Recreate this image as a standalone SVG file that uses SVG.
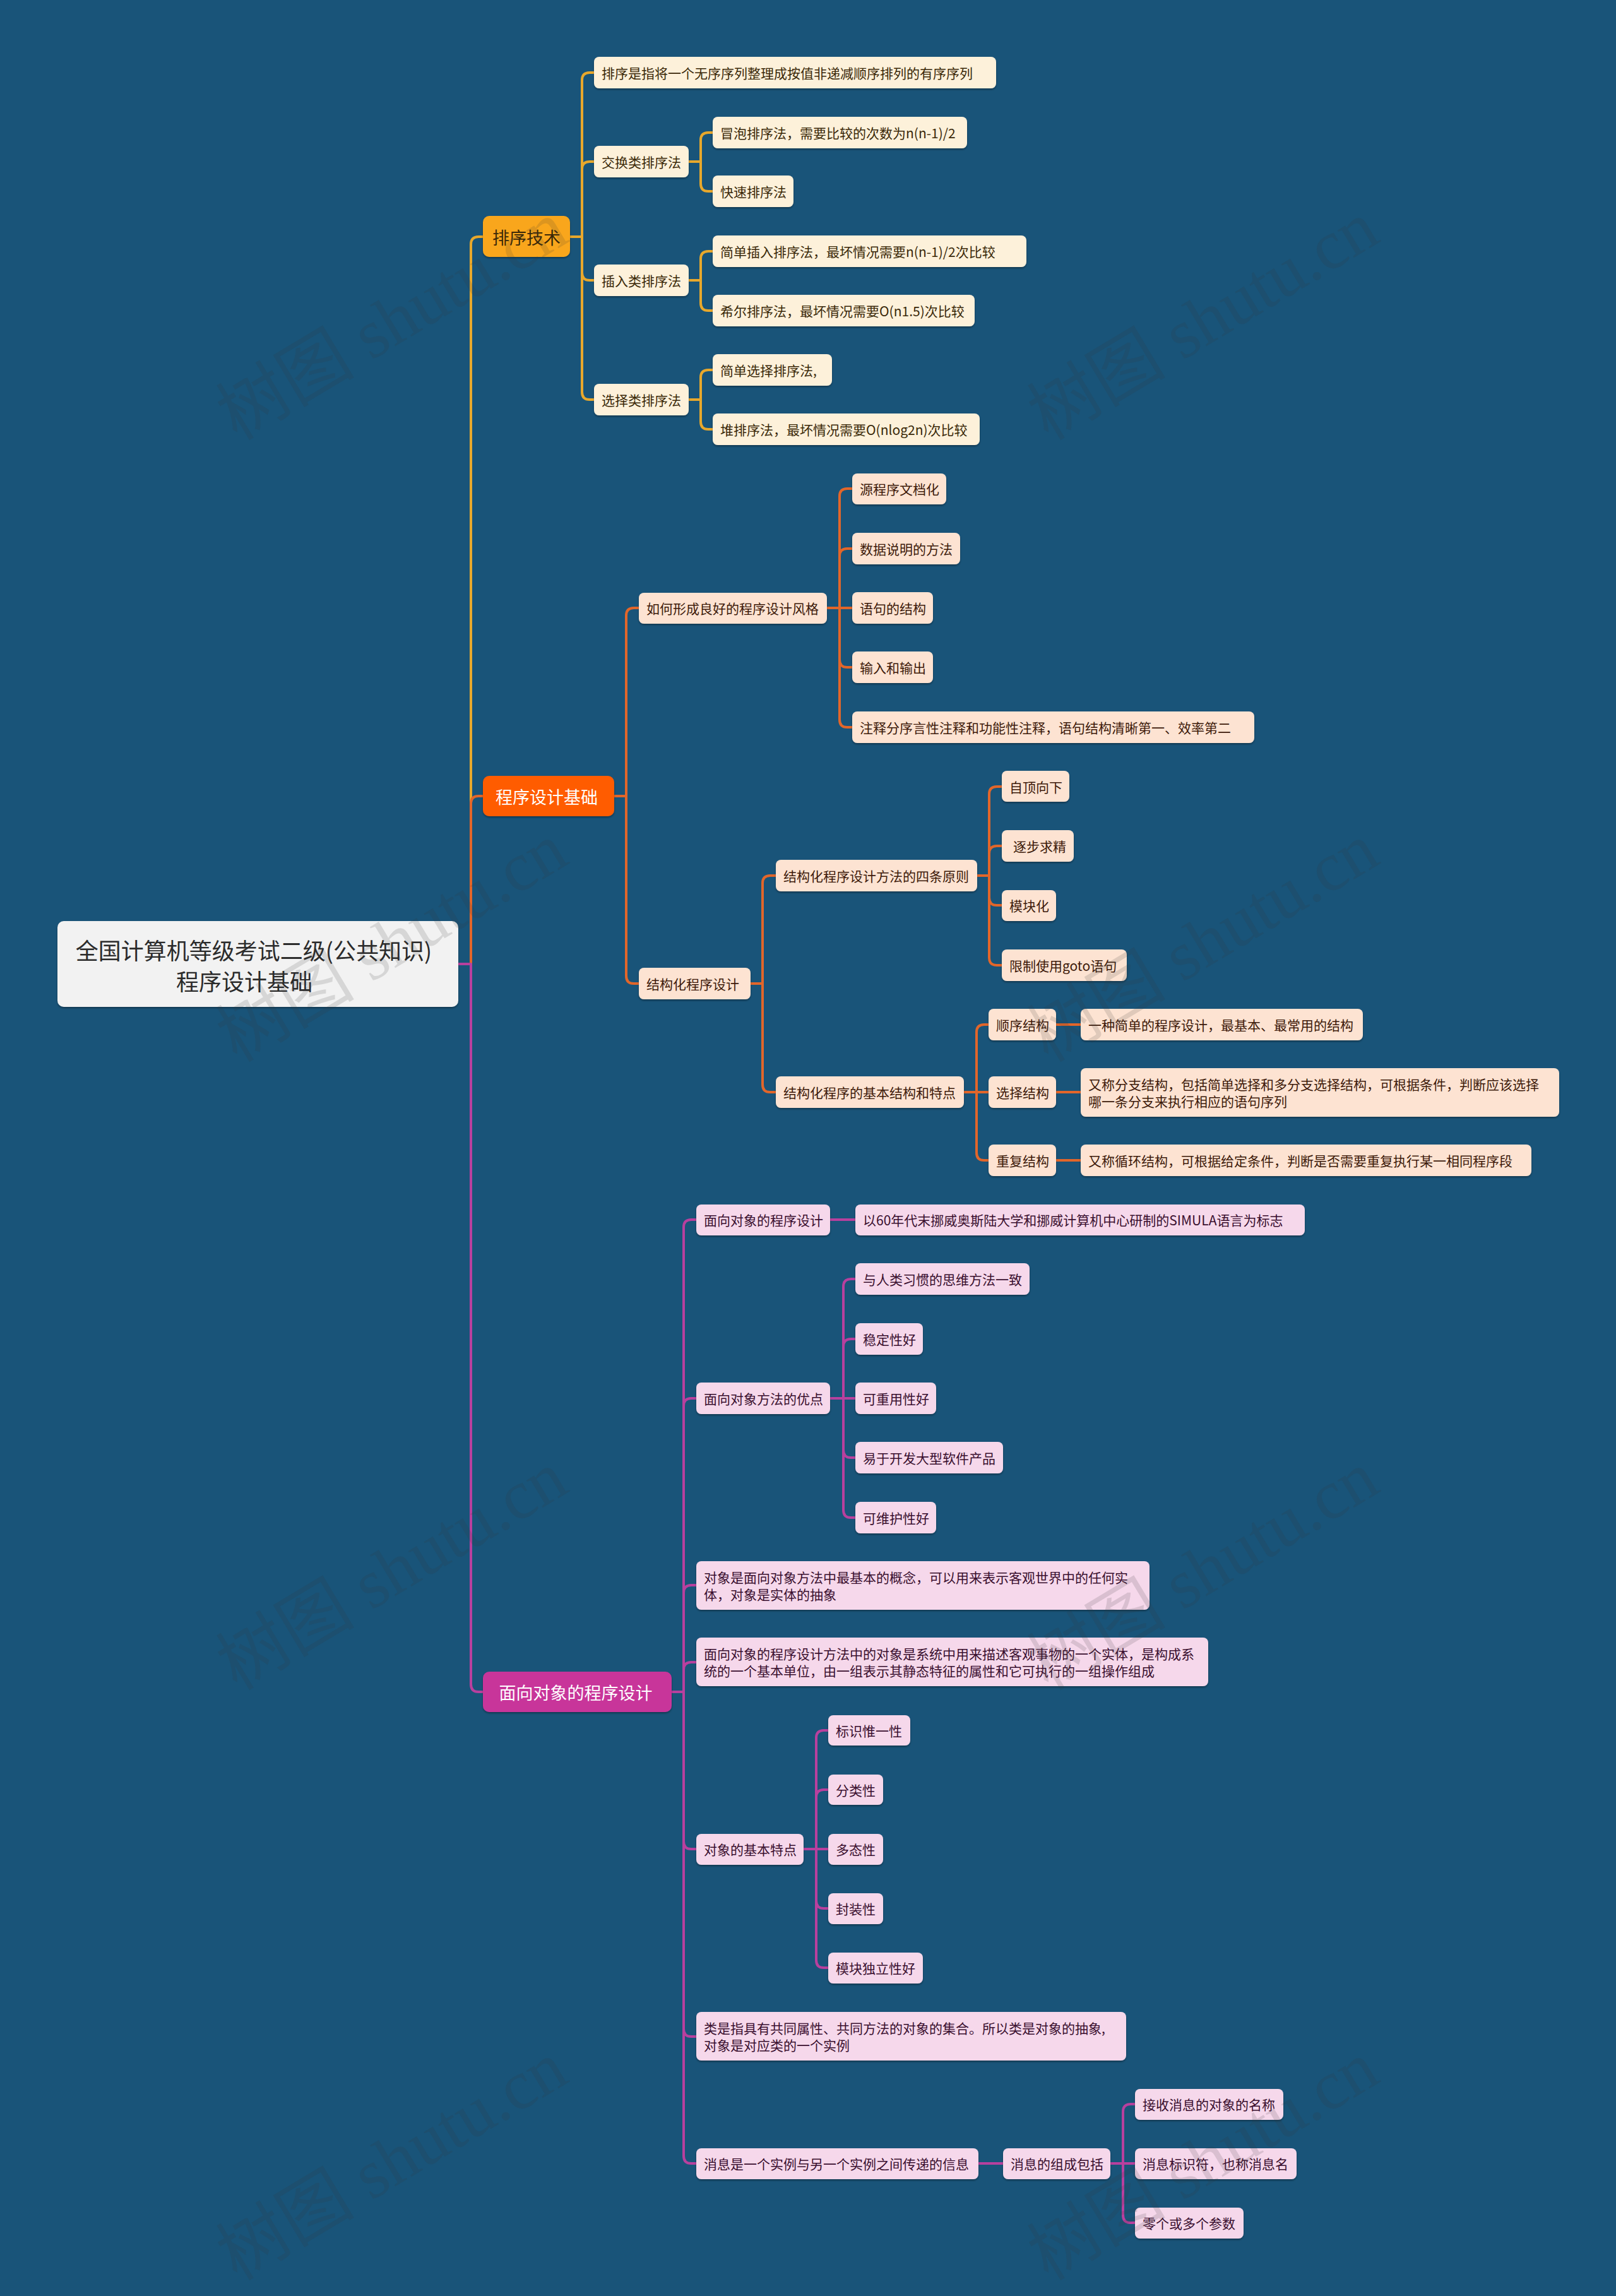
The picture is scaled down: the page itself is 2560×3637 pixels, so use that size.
<svg xmlns="http://www.w3.org/2000/svg" width="2560" height="3637" viewBox="0 0 2560 3637">
<defs>
<filter id="sh" x="-5%" y="-20%" width="110%" height="150%">
<feDropShadow dx="0" dy="2" stdDeviation="1.5" flood-color="#000" flood-opacity="0.35"/>
</filter>
<style>
.t{font-family:"Noto Sans CJK SC","Microsoft YaHei",sans-serif;dominant-baseline:central}
.s21{font-size:21px}
.s27{font-size:27px;text-anchor:middle}
.m{text-anchor:middle}
.na{fill:#fdf1da}
.nb{fill:#fde3d2}
.nc{fill:#f6d8eb}
.ta{fill:#3a2808}
.tb{fill:#3d1a0a}
.tc{fill:#3a0f2f}
.e{fill:none;stroke-width:4;stroke-linecap:round;stroke-linejoin:round}
.ea{stroke:#e8a82c}
.eb{stroke:#e2662a}
.ec{stroke:#b8409e}
.wm{font-family:"Liberation Serif","Noto Sans CJK SC",serif;font-size:110px;fill:#333;fill-opacity:0.15}
</style>
</defs>
<rect x="0" y="0" width="2560" height="3637" fill="#195479"/>

<g id="connectors">
<g class="e ea">
<path d="M726,1527 H746 V387 Q746,375 758,375 H765"/>
<path d="M903,375 H922 V127 Q922,115 934,115 H941"/>
<path d="M903,375 H922 V268 Q922,256 934,256 H941"/>
<path d="M903,375 H922 V432 Q922,444 934,444 H941"/>
<path d="M903,375 H922 V621 Q922,633 934,633 H941"/>
<path d="M1091,256 H1110 V222 Q1110,210 1122,210 H1129"/>
<path d="M1091,256 H1110 V291 Q1110,303 1122,303 H1129"/>
<path d="M1091,444 H1110 V410 Q1110,398 1122,398 H1129"/>
<path d="M1091,444 H1110 V480 Q1110,492 1122,492 H1129"/>
<path d="M1091,633 H1110 V598 Q1110,586 1122,586 H1129"/>
<path d="M1091,633 H1110 V668 Q1110,680 1122,680 H1129"/>
</g>
<g class="e eb">
<path d="M726,1527 H746 V1273 Q746,1261 758,1261 H765"/>
<path d="M973,1261 H992 V975 Q992,963 1004,963 H1012"/>
<path d="M973,1261 H992 V1546 Q992,1558 1004,1558 H1012"/>
<path d="M1310,963 H1330 V786 Q1330,774 1342,774 H1350"/>
<path d="M1310,963 H1330 V881 Q1330,869 1342,869 H1350"/>
<path d="M1310,963 H1350"/>
<path d="M1310,963 H1330 V1045 Q1330,1057 1342,1057 H1350"/>
<path d="M1310,963 H1330 V1140 Q1330,1152 1342,1152 H1350"/>
<path d="M1189,1558 H1208 V1399 Q1208,1387 1220,1387 H1229"/>
<path d="M1189,1558 H1208 V1718 Q1208,1730 1220,1730 H1229"/>
<path d="M1548,1387 H1567 V1258 Q1567,1246 1579,1246 H1587"/>
<path d="M1548,1387 H1567 V1352 Q1567,1340 1579,1340 H1587"/>
<path d="M1548,1387 H1567 V1422 Q1567,1434 1579,1434 H1587"/>
<path d="M1548,1387 H1567 V1517 Q1567,1529 1579,1529 H1587"/>
<path d="M1527,1730 H1547 V1635 Q1547,1623 1559,1623 H1566"/>
<path d="M1527,1730 H1566"/>
<path d="M1527,1730 H1547 V1826 Q1547,1838 1559,1838 H1566"/>
<path d="M1673,1623 H1712"/>
<path d="M1673,1730 H1712"/>
<path d="M1673,1838 H1712"/>
</g>
<g class="e ec">
<path d="M726,1527 H746 V2668 Q746,2680 758,2680 H765"/>
<path d="M1064,2680 H1083 V1944 Q1083,1932 1095,1932 H1103"/>
<path d="M1064,2680 H1083 V2227 Q1083,2215 1095,2215 H1103"/>
<path d="M1064,2680 H1083 V2523 Q1083,2511 1095,2511 H1103"/>
<path d="M1064,2680 H1083 V2645 Q1083,2633 1095,2633 H1103"/>
<path d="M1064,2680 H1083 V2917 Q1083,2929 1095,2929 H1103"/>
<path d="M1064,2680 H1083 V3214 Q1083,3226 1095,3226 H1103"/>
<path d="M1064,2680 H1083 V3415 Q1083,3427 1095,3427 H1103"/>
<path d="M1315,1932 H1355"/>
<path d="M1315,2215 H1336 V2038 Q1336,2026 1348,2026 H1355"/>
<path d="M1315,2215 H1336 V2133 Q1336,2121 1348,2121 H1355"/>
<path d="M1315,2215 H1355"/>
<path d="M1315,2215 H1336 V2297 Q1336,2309 1348,2309 H1355"/>
<path d="M1315,2215 H1336 V2392 Q1336,2404 1348,2404 H1355"/>
<path d="M1273,2929 H1293 V2753 Q1293,2741 1305,2741 H1312"/>
<path d="M1273,2929 H1293 V2847 Q1293,2835 1305,2835 H1312"/>
<path d="M1273,2929 H1312"/>
<path d="M1273,2929 H1293 V3011 Q1293,3023 1305,3023 H1312"/>
<path d="M1273,2929 H1293 V3105 Q1293,3117 1305,3117 H1312"/>
<path d="M1550,3427 H1589"/>
<path d="M1759,3427 H1779 V3345 Q1779,3333 1791,3333 H1798"/>
<path d="M1759,3427 H1798"/>
<path d="M1759,3427 H1779 V3509 Q1779,3521 1791,3521 H1798"/>
</g>
</g>

<g id="root"><rect x="91" y="1459" width="635" height="136" rx="10" fill="#f2f2f2" filter="url(#sh)"/><text class="t m" x="402" y="1504" font-size="36" fill="#2b2b2b">全国计算机等级考试二级(公共知识)</text><text class="t m" x="387" y="1553" font-size="36" fill="#2b2b2b">程序设计基础</text></g>

<g id="n-a"><rect x="765" y="342" width="138" height="65" rx="10" fill="#f9a61c" filter="url(#sh)"/><text class="t s27" x="834" y="375" fill="#3a2808">排序技术</text></g>
<g id="n-b"><rect x="765" y="1229" width="208" height="64" rx="10" fill="#ff5c00" filter="url(#sh)"/><text class="t s27" x="866" y="1261" fill="#ffffff">程序设计基础</text></g>
<g id="n-c"><rect x="765" y="2648" width="299" height="64" rx="10" fill="#c8359a" filter="url(#sh)"/><text class="t s27" x="912" y="2680" fill="#ffffff">面向对象的程序设计</text></g>

<g id="n-a1"><rect class="na" x="941" y="90" width="637" height="50" rx="8" filter="url(#sh)"/><text class="t s21 ta" x="953" y="115">排序是指将一个无序序列整理成按值非递减顺序排列的有序序列</text></g>
<g id="n-a2"><rect class="na" x="941" y="231" width="150" height="50" rx="8" filter="url(#sh)"/><text class="t s21 ta" x="953" y="256">交换类排序法</text></g>
<g id="n-a3"><rect class="na" x="941" y="419" width="150" height="50" rx="8" filter="url(#sh)"/><text class="t s21 ta" x="953" y="444">插入类排序法</text></g>
<g id="n-a4"><rect class="na" x="941" y="608" width="150" height="50" rx="8" filter="url(#sh)"/><text class="t s21 ta" x="953" y="633">选择类排序法</text></g>
<g id="n-a21"><rect class="na" x="1129" y="185" width="403" height="50" rx="8" filter="url(#sh)"/><text class="t s21 ta" x="1141" y="210">冒泡排序法，需要比较的次数为n(n-1)/2</text></g>
<g id="n-a22"><rect class="na" x="1129" y="278" width="128" height="50" rx="8" filter="url(#sh)"/><text class="t s21 ta" x="1141" y="303">快速排序法</text></g>
<g id="n-a31"><rect class="na" x="1129" y="373" width="497" height="50" rx="8" filter="url(#sh)"/><text class="t s21 ta" x="1141" y="398">简单插入排序法，最坏情况需要n(n-1)/2次比较</text></g>
<g id="n-a32"><rect class="na" x="1129" y="467" width="415" height="50" rx="8" filter="url(#sh)"/><text class="t s21 ta" x="1141" y="492">希尔排序法，最坏情况需要O(n1.5)次比较</text></g>
<g id="n-a41"><rect class="na" x="1129" y="561" width="189" height="50" rx="8" filter="url(#sh)"/><text class="t s21 ta" x="1141" y="586">简单选择排序法,</text></g>
<g id="n-a42"><rect class="na" x="1129" y="655" width="423" height="50" rx="8" filter="url(#sh)"/><text class="t s21 ta" x="1141" y="680">堆排序法，最坏情况需要O(nlog2n)次比较</text></g>

<g id="n-b1"><rect class="nb" x="1012" y="939" width="298" height="49" rx="8" filter="url(#sh)"/><text class="t s21 tb" x="1024" y="963">如何形成良好的程序设计风格</text></g>
<g id="n-b11"><rect class="nb" x="1350" y="750" width="149" height="49" rx="8" filter="url(#sh)"/><text class="t s21 tb" x="1362" y="774">源程序文档化</text></g>
<g id="n-b12"><rect class="nb" x="1350" y="844" width="171" height="50" rx="8" filter="url(#sh)"/><text class="t s21 tb" x="1362" y="869">数据说明的方法</text></g>
<g id="n-b13"><rect class="nb" x="1350" y="938" width="128" height="50" rx="8" filter="url(#sh)"/><text class="t s21 tb" x="1362" y="963">语句的结构</text></g>
<g id="n-b14"><rect class="nb" x="1350" y="1032" width="128" height="50" rx="8" filter="url(#sh)"/><text class="t s21 tb" x="1362" y="1057">输入和输出</text></g>
<g id="n-b15"><rect class="nb" x="1350" y="1127" width="637" height="50" rx="8" filter="url(#sh)"/><text class="t s21 tb" x="1362" y="1152">注释分序言性注释和功能性注释，语句结构清晰第一、效率第二</text></g>
<g id="n-b2"><rect class="nb" x="1012" y="1533" width="177" height="50" rx="8" filter="url(#sh)"/><text class="t s21 tb" x="1024" y="1558">结构化程序设计</text></g>
<g id="n-b21"><rect class="nb" x="1229" y="1362" width="319" height="50" rx="8" filter="url(#sh)"/><text class="t s21 tb" x="1241" y="1387">结构化程序设计方法的四条原则</text></g>
<g id="n-b211"><rect class="nb" x="1587" y="1221" width="107" height="49" rx="8" filter="url(#sh)"/><text class="t s21 tb" x="1599" y="1246">自顶向下</text></g>
<g id="n-b212"><rect class="nb" x="1587" y="1315" width="114" height="50" rx="8" filter="url(#sh)"/><text class="t s21 tb" x="1605" y="1340">逐步求精</text></g>
<g id="n-b213"><rect class="nb" x="1587" y="1410" width="86" height="49" rx="8" filter="url(#sh)"/><text class="t s21 tb" x="1599" y="1434">模块化</text></g>
<g id="n-b214"><rect class="nb" x="1587" y="1504" width="198" height="50" rx="8" filter="url(#sh)"/><text class="t s21 tb" x="1599" y="1529">限制使用goto语句</text></g>
<g id="n-b22"><rect class="nb" x="1229" y="1705" width="298" height="50" rx="8" filter="url(#sh)"/><text class="t s21 tb" x="1241" y="1730">结构化程序的基本结构和特点</text></g>
<g id="n-b221"><rect class="nb" x="1566" y="1598" width="107" height="50" rx="8" filter="url(#sh)"/><text class="t s21 tb" x="1578" y="1623">顺序结构</text></g>
<g id="n-b222"><rect class="nb" x="1566" y="1705" width="107" height="50" rx="8" filter="url(#sh)"/><text class="t s21 tb" x="1578" y="1730">选择结构</text></g>
<g id="n-b223"><rect class="nb" x="1566" y="1813" width="107" height="50" rx="8" filter="url(#sh)"/><text class="t s21 tb" x="1578" y="1838">重复结构</text></g>
<g id="n-b2211"><rect class="nb" x="1712" y="1598" width="447" height="50" rx="8" filter="url(#sh)"/><text class="t s21 tb" x="1724" y="1623">一种简单的程序设计，最基本、最常用的结构</text></g>
<g id="n-b2221"><rect class="nb" x="1712" y="1692" width="758" height="77" rx="8" filter="url(#sh)"/><text class="t s21 tb"><tspan x="1724" y="1717">又称分支结构，包括简单选择和多分支选择结构，可根据条件，判断应该选择</tspan><tspan x="1724" y="1744">哪一条分支来执行相应的语句序列</tspan></text></g>
<g id="n-b2231"><rect class="nb" x="1712" y="1813" width="714" height="50" rx="8" filter="url(#sh)"/><text class="t s21 tb" x="1724" y="1838">又称循环结构，可根据给定条件，判断是否需要重复执行某一相同程序段</text></g>

<g id="n-c1"><rect class="nc" x="1103" y="1908" width="212" height="49" rx="8" filter="url(#sh)"/><text class="t s21 tc" x="1115" y="1932">面向对象的程序设计</text></g>
<g id="n-c11"><rect class="nc" x="1355" y="1908" width="712" height="49" rx="8" filter="url(#sh)"/><text class="t s21 tc" x="1367" y="1932">以60年代末挪威奥斯陆大学和挪威计算机中心研制的SIMULA语言为标志</text></g>
<g id="n-c2"><rect class="nc" x="1103" y="2190" width="212" height="50" rx="8" filter="url(#sh)"/><text class="t s21 tc" x="1115" y="2215">面向对象方法的优点</text></g>
<g id="n-c21"><rect class="nc" x="1355" y="2001" width="276" height="50" rx="8" filter="url(#sh)"/><text class="t s21 tc" x="1367" y="2026">与人类习惯的思维方法一致</text></g>
<g id="n-c22"><rect class="nc" x="1355" y="2096" width="107" height="50" rx="8" filter="url(#sh)"/><text class="t s21 tc" x="1367" y="2121">稳定性好</text></g>
<g id="n-c23"><rect class="nc" x="1355" y="2190" width="128" height="50" rx="8" filter="url(#sh)"/><text class="t s21 tc" x="1367" y="2215">可重用性好</text></g>
<g id="n-c24"><rect class="nc" x="1355" y="2284" width="234" height="50" rx="8" filter="url(#sh)"/><text class="t s21 tc" x="1367" y="2309">易于开发大型软件产品</text></g>
<g id="n-c25"><rect class="nc" x="1355" y="2379" width="128" height="50" rx="8" filter="url(#sh)"/><text class="t s21 tc" x="1367" y="2404">可维护性好</text></g>
<g id="n-c3"><rect class="nc" x="1103" y="2473" width="718" height="77" rx="8" filter="url(#sh)"/><text class="t s21 tc"><tspan x="1115" y="2498">对象是面向对象方法中最基本的概念，可以用来表示客观世界中的任何实</tspan><tspan x="1115" y="2525">体，对象是实体的抽象</tspan></text></g>
<g id="n-c4"><rect class="nc" x="1103" y="2594" width="811" height="77" rx="8" filter="url(#sh)"/><text class="t s21 tc"><tspan x="1115" y="2619">面向对象的程序设计方法中的对象是系统中用来描述客观事物的一个实体，是构成系</tspan><tspan x="1115" y="2646">统的一个基本单位，由一组表示其静态特征的属性和它可执行的一组操作组成</tspan></text></g>
<g id="n-c5"><rect class="nc" x="1103" y="2905" width="170" height="49" rx="8" filter="url(#sh)"/><text class="t s21 tc" x="1115" y="2929">对象的基本特点</text></g>
<g id="n-c51"><rect class="nc" x="1312" y="2717" width="130" height="48" rx="8" filter="url(#sh)"/><text class="t s21 tc" x="1324" y="2741">标识惟一性</text></g>
<g id="n-c52"><rect class="nc" x="1312" y="2811" width="87" height="48" rx="8" filter="url(#sh)"/><text class="t s21 tc" x="1324" y="2835">分类性</text></g>
<g id="n-c53"><rect class="nc" x="1312" y="2905" width="87" height="49" rx="8" filter="url(#sh)"/><text class="t s21 tc" x="1324" y="2929">多态性</text></g>
<g id="n-c54"><rect class="nc" x="1312" y="2999" width="87" height="49" rx="8" filter="url(#sh)"/><text class="t s21 tc" x="1324" y="3023">封装性</text></g>
<g id="n-c55"><rect class="nc" x="1312" y="3093" width="150" height="49" rx="8" filter="url(#sh)"/><text class="t s21 tc" x="1324" y="3117">模块独立性好</text></g>
<g id="n-c6"><rect class="nc" x="1103" y="3187" width="681" height="77" rx="8" filter="url(#sh)"/><text class="t s21 tc"><tspan x="1115" y="3212">类是指具有共同属性、共同方法的对象的集合。所以类是对象的抽象,</tspan><tspan x="1115" y="3239">对象是对应类的一个实例</tspan></text></g>
<g id="n-c7"><rect class="nc" x="1103" y="3403" width="447" height="49" rx="8" filter="url(#sh)"/><text class="t s21 tc" x="1115" y="3427">消息是一个实例与另一个实例之间传递的信息</text></g>
<g id="n-c71"><rect class="nc" x="1589" y="3403" width="170" height="49" rx="8" filter="url(#sh)"/><text class="t s21 tc" x="1601" y="3427">消息的组成包括</text></g>
<g id="n-c711"><rect class="nc" x="1798" y="3309" width="235" height="49" rx="8" filter="url(#sh)"/><text class="t s21 tc" x="1810" y="3333">接收消息的对象的名称</text></g>
<g id="n-c712"><rect class="nc" x="1798" y="3403" width="256" height="49" rx="8" filter="url(#sh)"/><text class="t s21 tc" x="1810" y="3427">消息标识符，也称消息名</text></g>
<g id="n-c713"><rect class="nc" x="1798" y="3497" width="172" height="49" rx="8" filter="url(#sh)"/><text class="t s21 tc" x="1810" y="3521">零个或多个参数</text></g>

<g id="watermark">
<text class="wm" text-anchor="middle" transform="translate(640,540) rotate(-31)">树图 shutu.cn</text>
<text class="wm" text-anchor="middle" transform="translate(1925,540) rotate(-31)">树图 shutu.cn</text>
<text class="wm" text-anchor="middle" transform="translate(640,1525) rotate(-31)">树图 shutu.cn</text>
<text class="wm" text-anchor="middle" transform="translate(1925,1525) rotate(-31)">树图 shutu.cn</text>
<text class="wm" text-anchor="middle" transform="translate(640,2520) rotate(-31)">树图 shutu.cn</text>
<text class="wm" text-anchor="middle" transform="translate(1925,2520) rotate(-31)">树图 shutu.cn</text>
<text class="wm" text-anchor="middle" transform="translate(640,3455) rotate(-31)">树图 shutu.cn</text>
<text class="wm" text-anchor="middle" transform="translate(1925,3455) rotate(-31)">树图 shutu.cn</text>
</g>
</svg>
